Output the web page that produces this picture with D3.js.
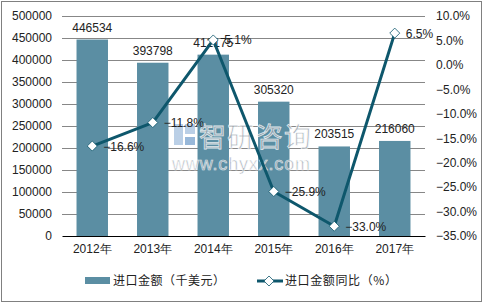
<!DOCTYPE html>
<html><head><meta charset="utf-8">
<script src="https://cdn.jsdelivr.net/npm/d3@7"></script>
<style>body{margin:0;background:#fff}svg{display:block;font-family:"Liberation Sans",Arial,sans-serif}</style>
</head><body><svg id="c" width="484" height="304"></svg>
<script>
const categories = ["2012年","2013年","2014年","2015年","2016年","2017年"];
const importValues = [446534, 393798, 412175, 305320, 203515, 216060];
const yoyValues = [-16.6, -11.8, 5.1, -25.9, -33.0, 6.5];
const leftTicks = [0,50000,100000,150000,200000,250000,300000,350000,400000,450000,500000];
const rightTicks = [-35,-30,-25,-20,-15,-10,-5,0,5,10];
const seriesNames = ["进口金额（千美元）","进口金额同比（%）"];

const barColor = "#5b8ea3", lineColor = "#0e576c";
const svg = d3.select("#c");
svg.append("rect").attr("x",1.5).attr("y",1.5).attr("width",480).attr("height",300)
  .attr("fill","#fff").attr("stroke","#808080").attr("stroke-width",1);

const L = 62, R = 425, T = 16, B = 236;
const x = d3.scaleBand().domain(categories).range([L,R]);
const yL = d3.scaleLinear().domain([0,500000]).range([B,T]);
const yR = d3.scaleLinear().domain([-35,10]).range([B,T]);

// gridlines
svg.append("g").selectAll("line").data(leftTicks.filter(d=>d>0)).join("line")
  .attr("x1",L).attr("x2",R).attr("y1",d=>Math.round(yL(d))+0.5).attr("y2",d=>Math.round(yL(d))+0.5)
  .attr("stroke","#878787").attr("stroke-width",1);

// left axis
const la = svg.append("g").attr("transform",`translate(${L},0)`)
  .call(d3.axisLeft(yL).tickValues(leftTicks).tickFormat(d3.format("d")).tickSize(0).tickPadding(10));
la.select(".domain").remove();
la.selectAll("text").attr("font-size",12).attr("fill","#222").attr("font-family","Liberation Sans, Arial");

// right axis
const ra = svg.append("g").attr("transform",`translate(${R},0)`)
  .call(d3.axisRight(yR).tickValues(rightTicks).tickFormat(d=>d3.format(".1f")(d)+"%").tickSize(0).tickPadding(11));
ra.select(".domain").remove();
ra.selectAll("text").attr("font-size",12).attr("fill","#222").attr("font-family","Liberation Sans, Arial");

// bars
const bw = x.bandwidth()*0.52;
svg.append("g").selectAll("rect").data(importValues).join("rect")
  .attr("x",(d,i)=>x(categories[i])+x.bandwidth()/2-bw/2)
  .attr("y",d=>yL(d)).attr("width",bw).attr("height",d=>B-yL(d)).attr("fill",barColor);

// x axis
const xa = svg.append("g").attr("transform",`translate(0,${B})`)
  .call(d3.axisBottom(x).tickSize(0).tickPadding(8));
xa.select(".domain").attr("stroke","#000").attr("stroke-width",1);
xa.selectAll("text").attr("font-size",12).attr("fill","#222").attr("font-family","Liberation Sans, Arial");

// watermark
const wm = svg.append("g").attr("opacity",0.8);
wm.append("rect").attr("x",174).attr("y",124).attr("width",9).attr("height",21).attr("fill","#a9c4e0");
wm.append("rect").attr("x",185).attr("y",124).attr("width",10).attr("height",10).attr("fill","#a9c4e0");
wm.append("rect").attr("x",185).attr("y",137).attr("width",10).attr("height",8).attr("fill","#7fa7d0");
wm.append("text").attr("x",199).attr("y",147).attr("font-size",27)
  .attr("font-family","Noto Sans CJK SC").attr("fill","#98a2ac").attr("stroke","#fff").attr("stroke-width",0.8)
  .attr("textLength",112).attr("lengthAdjust","spacing").text("智研咨询");
wm.append("text").attr("x",172).attr("y",170).attr("font-size",18)
  .attr("fill","#98a2ac").attr("stroke","#fff").attr("stroke-width",0.6)
  .attr("textLength",138).attr("lengthAdjust","spacing").text("www.chyxx.com");

// bar labels
svg.append("g").selectAll("text").data(importValues).join("text")
  .attr("x",(d,i)=>x(categories[i])+x.bandwidth()/2).attr("y",d=>yL(d)-8)
  .attr("text-anchor","middle").attr("font-size",12).attr("fill","#222").text(d=>d);

// line
const px = (d,i)=>x(categories[i])+x.bandwidth()/2;
svg.append("path").datum(yoyValues)
  .attr("d",d3.line().x(px).y(d=>yR(d)))
  .attr("fill","none").attr("stroke",lineColor).attr("stroke-width",3).attr("stroke-linejoin","round");
const diamond = d3.symbol().type(d3.symbolDiamond2).size(64);
svg.append("g").selectAll("path").data(yoyValues).join("path")
  .attr("transform",(d,i)=>`translate(${px(d,i)},${yR(d)})`).attr("d",diamond)
  .attr("fill","#fff").attr("stroke",lineColor).attr("stroke-width",0.8);
svg.append("g").selectAll("text").data(yoyValues).join("text")
  .attr("x",(d,i)=>px(d,i)+11).attr("y",d=>yR(d)+4.5)
  .attr("font-size",12).attr("fill","#222").text(d=>d3.format(".1f")(d)+"%");

// legend
const lg = svg.append("g");
lg.append("rect").attr("x",85).attr("y",277).attr("width",25).attr("height",7).attr("fill",barColor);
lg.append("text").attr("x",113).attr("y",285).attr("font-size",12).attr("fill","#222")
  .attr("font-family","Noto Sans CJK SC").attr("textLength",112).attr("lengthAdjust","spacing").text(seriesNames[0]);
lg.append("line").attr("x1",257).attr("x2",283).attr("y1",281).attr("y2",281).attr("stroke",lineColor).attr("stroke-width",3);
lg.append("path").attr("transform","translate(269,281)").attr("d",diamond).attr("fill","#fff").attr("stroke",lineColor).attr("stroke-width",0.8);
lg.append("text").attr("x",285).attr("y",285).attr("font-size",12).attr("fill","#222")
  .attr("font-family","Noto Sans CJK SC").attr("textLength",112).attr("lengthAdjust","spacing").text(seriesNames[1]);
</script></body></html>
